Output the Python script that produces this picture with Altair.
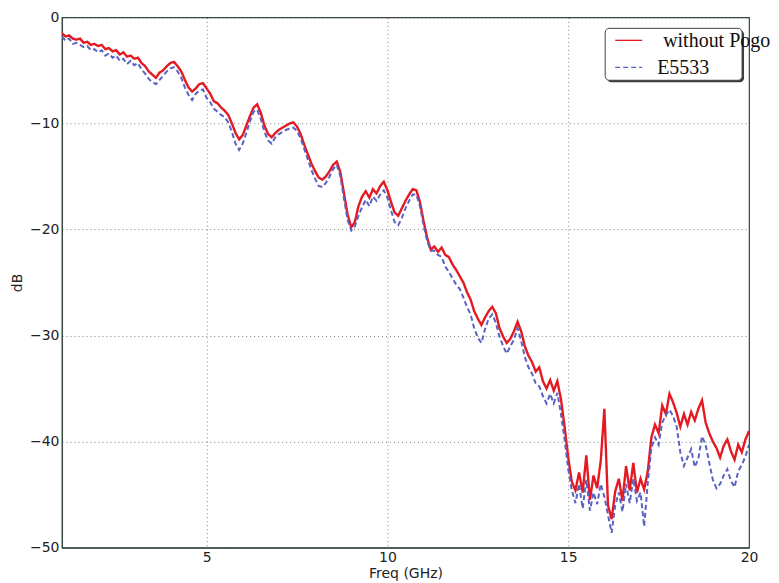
import altair as alt
import pandas as pd

freq = [round(1.0 + 0.1 * i, 1) for i in range(191)]

without_pogo = [
    -1.5, -1.8, -1.7, -2.0, -2.1, -2.0, -2.4, -2.3, -2.6, -2.5,
    -2.7, -2.6, -3.0, -2.9, -3.2, -3.1, -3.5, -3.3, -3.7, -3.6,
    -3.9, -3.8, -4.3, -4.6, -5.1, -5.4, -5.7, -5.2, -5.0, -4.6,
    -4.3, -4.2, -4.6, -5.1, -5.9, -6.6, -7.0, -6.7, -6.3, -6.2,
    -6.7, -7.2, -7.9, -8.1, -8.5, -8.8, -9.2, -10.0, -10.9, -11.5,
    -11.1, -10.2, -9.3, -8.5, -8.2, -9.0, -10.2, -11.0, -11.3, -10.9,
    -10.6, -10.4, -10.2, -10.0, -9.9, -10.3, -11.0, -12.0, -12.9, -13.8,
    -14.5, -15.1, -15.3, -15.0, -14.5, -13.9, -13.6, -14.6, -16.6, -18.6,
    -19.8, -19.3, -17.8, -16.9, -16.4, -17.0, -16.2, -16.6, -15.9, -15.5,
    -16.3, -17.4, -18.4, -18.7, -18.0, -17.3, -16.7, -16.2, -16.3, -17.4,
    -19.2, -20.8, -21.9, -21.6, -22.1, -21.7, -22.4, -22.6, -23.3, -23.8,
    -24.4, -25.0, -25.9, -26.6, -27.7, -28.4, -29.0, -28.3, -27.7, -27.3,
    -27.9, -29.3, -30.1, -30.7, -30.3, -29.6, -28.7, -29.6, -31.0, -31.9,
    -32.5, -33.4, -33.0, -34.3, -35.0, -34.2, -35.2, -34.3, -36.0, -38.6,
    -41.5, -43.8, -44.6, -42.9, -44.8, -41.3, -45.5, -43.2, -44.4, -41.8,
    -36.9, -46.0, -47.3, -44.7, -43.5, -45.6, -42.3, -44.6, -42.0, -44.8,
    -43.5, -44.5, -42.8, -39.6, -38.4, -39.2, -36.6, -37.4, -35.5, -36.3,
    -37.3, -38.6, -37.4, -38.4, -37.2, -38.0, -36.9, -36.1, -38.2, -39.2,
    -40.0, -40.6, -41.5, -40.4, -39.8, -40.9, -41.7, -40.3, -41.0, -39.8,
    -39.0,
]

e5533 = [
    -1.8, -2.2, -2.0, -2.5, -2.4, -2.6, -2.8, -2.7, -3.1, -3.0,
    -3.3, -3.1, -3.6, -3.4, -3.8, -3.6, -4.1, -3.9, -4.4, -4.1,
    -4.5, -4.3, -4.9, -5.3, -5.8, -6.1, -6.3, -5.9, -5.5, -5.1,
    -4.8, -4.7, -5.1, -5.7, -6.6, -7.3, -7.8, -7.2, -6.9, -6.8,
    -7.6, -8.0, -8.6, -8.9, -9.2, -9.4, -9.9, -10.8, -11.9, -12.5,
    -11.9, -10.9, -9.8, -8.9, -8.7, -9.6, -10.8, -11.6, -11.9, -11.3,
    -11.0, -10.8, -10.6, -10.5, -10.4, -10.7, -11.4, -12.4, -13.4, -14.4,
    -15.2, -15.9, -16.0, -15.6, -15.0, -14.3, -13.9, -15.0, -17.1, -19.1,
    -20.1, -19.7, -18.7, -17.9, -17.2, -17.8, -16.9, -17.3, -16.7, -16.3,
    -17.0, -18.2, -19.3, -19.6, -18.9, -18.0, -17.3, -16.7, -16.7, -17.8,
    -19.6, -21.1, -22.0, -22.0, -22.4, -22.6, -23.5, -24.0, -24.6, -25.2,
    -25.6, -26.4, -27.3, -28.0, -29.3, -30.2, -30.7, -29.4, -28.4, -28.0,
    -28.8, -30.1, -31.0, -31.7, -31.0, -30.4, -29.3, -30.5, -32.0, -33.0,
    -33.6, -34.5, -34.8, -35.7, -36.4, -35.5, -36.4, -35.4, -37.4, -39.8,
    -42.6, -44.6, -45.8, -44.0, -46.3, -43.6, -46.5, -44.8, -45.9, -44.0,
    -45.2, -46.9, -48.6, -46.0, -44.8, -46.6, -44.0, -45.8, -43.5, -45.6,
    -44.8, -48.0, -43.9, -40.6, -39.6, -40.3, -38.2, -37.5, -37.0, -37.6,
    -38.6, -41.0, -42.3, -41.5, -40.7, -42.4, -41.6, -39.5, -40.3, -42.0,
    -43.6, -44.4, -44.0, -43.2, -42.6, -43.7, -44.3, -42.8, -42.2, -41.4,
    -40.3,
]

series_names = ["without Pogo", "E5533"]
series_colors = ["#e41a22", "#5a62c4"]
x_ticks = [5, 10, 15, 20]
y_ticks = [-50, -40, -30, -20, -10, 0]

rows = []
for i, f in enumerate(freq):
    rows.append({"freq": f, "db": without_pogo[i], "series": series_names[0], "order": 0})
for i, f in enumerate(freq):
    rows.append({"freq": f, "db": e5533[i], "series": series_names[1], "order": 1})
df = pd.DataFrame(rows)

lines = alt.Chart(df).mark_line(clip=True).encode(
    x=alt.X("freq:Q", title="Freq (GHz)",
            scale=alt.Scale(domain=[1, 20], nice=False, zero=False),
            axis=alt.Axis(values=x_ticks, grid=True, format="d", labelFlush=False)),
    y=alt.Y("db:Q", title="dB",
            scale=alt.Scale(domain=[-50, 0], nice=False),
            axis=alt.Axis(values=y_ticks, grid=True, format="d", labelFlush=False)),
    color=alt.Color("series:N",
                    scale=alt.Scale(domain=series_names, range=series_colors),
                    sort=series_names, legend=None),
    strokeDash=alt.StrokeDash("series:N",
                              scale=alt.Scale(domain=series_names, range=[[1, 0], [5, 3]]),
                              sort=series_names, legend=None),
    strokeWidth=alt.StrokeWidth("series:N",
                                scale=alt.Scale(domain=series_names, range=[2.4, 2.0]),
                                sort=series_names, legend=None),
    order=alt.Order("order:Q"),
)

one = pd.DataFrame({"k": [0]})

legend_shadow = alt.Chart(one).mark_rect(fill="#3c3c3c", cornerRadius=4).encode(
    x=alt.value(546), x2=alt.value(683), y=alt.value(13), y2=alt.value(65))
legend_box = alt.Chart(one).mark_rect(fill="white", stroke="#444", strokeWidth=1, cornerRadius=4).encode(
    x=alt.value(544), x2=alt.value(681), y=alt.value(11), y2=alt.value(63))
legend_red = alt.Chart(one).mark_rule(color=series_colors[0], strokeWidth=1.3).encode(
    x=alt.value(554), x2=alt.value(581), y=alt.value(23))
legend_blue = alt.Chart(one).mark_rule(color=series_colors[1], strokeWidth=1.3, strokeDash=[5, 3]).encode(
    x=alt.value(554), x2=alt.value(581), y=alt.value(50))
legend_t1 = alt.Chart(one).mark_text(align="left", baseline="middle", font="Liberation Serif",
                                     fontSize=20, color="#111").encode(
    x=alt.value(602), y=alt.value(24), text=alt.value(series_names[0]))
legend_t2 = alt.Chart(one).mark_text(align="left", baseline="middle", font="Liberation Serif",
                                     fontSize=20, color="#111").encode(
    x=alt.value(596), y=alt.value(51), text=alt.value(series_names[1]))

chart = alt.layer(
    lines, legend_shadow, legend_box, legend_red, legend_blue, legend_t1, legend_t2
).properties(
    width=688, height=531,
    padding={"left": 2, "top": 2, "right": 0, "bottom": 0},
).configure_view(
    stroke="#3a4a40", strokeWidth=1.2
).configure_axis(
    labelFont="DejaVu Sans", labelFontSize=14, labelColor="#222",
    titleFont="DejaVu Sans", titleFontSize=14, titleColor="#222", titleFontWeight="normal",
    gridColor="#333", gridDash=[1, 3], gridOpacity=0.8, gridWidth=0.8,
    domainColor="#3a4a40", domainWidth=1.2,
    tickSize=0, labelPadding=3,
).configure_axisX(
    titlePadding=2,
).configure_axisY(
    titlePadding=5,
)

chart.save("out.html", embed_options={"renderer": "svg", "actions": False})
